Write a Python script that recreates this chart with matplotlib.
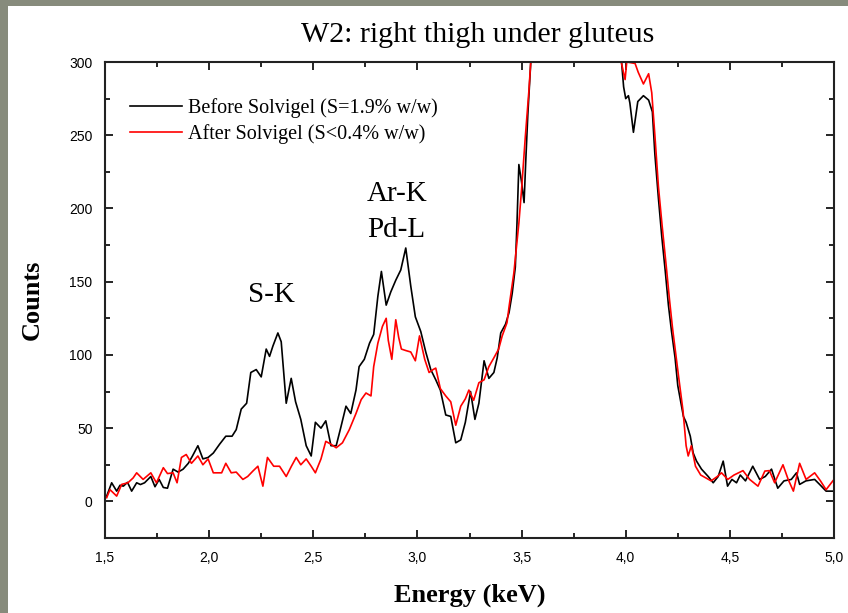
import numpy as np
import matplotlib; matplotlib.use("Agg")
import matplotlib.pyplot as plt
from matplotlib.patches import Rectangle
from matplotlib.ticker import MultipleLocator, FuncFormatter

# ------------------------------------------------ spectra
# Before Solvigel (black)
e_before = [1.508, 1.532, 1.556, 1.572, 1.588, 1.608, 1.628, 1.652, 1.67, 1.69,
            1.72, 1.74, 1.76, 1.78, 1.80, 1.827, 1.851, 1.875, 1.90, 1.92,
            1.946, 1.97, 1.995, 2.02, 2.05, 2.08, 2.11, 2.13, 2.154, 2.18,
            2.20, 2.226, 2.25, 2.274, 2.29, 2.306, 2.33, 2.346, 2.37, 2.394,
            2.415, 2.44, 2.466, 2.49, 2.51, 2.537, 2.56, 2.585, 2.61, 2.633,
            2.657, 2.68, 2.705, 2.72, 2.745, 2.77, 2.79, 2.81, 2.827, 2.85,
            2.872, 2.896, 2.92, 2.944, 2.968, 2.99, 3.016, 3.04, 3.064, 3.088,
            3.11, 3.136, 3.16, 3.184, 3.208, 3.23, 3.255, 3.276, 3.295, 3.32,
            3.343, 3.367, 3.383, 3.40, 3.423, 3.44, 3.455, 3.47, 3.478, 3.487,
            3.50, 3.512, 3.52, 3.53, 3.537, 3.545, 3.56, 3.60, 3.70, 3.80,
            3.90, 3.96, 3.98, 3.99, 4.00, 4.013, 4.02, 4.037, 4.058, 4.085,
            4.11, 4.128, 4.14, 4.157, 4.173, 4.19, 4.205, 4.22, 4.237, 4.25,
            4.277, 4.29, 4.31, 4.324, 4.34, 4.364, 4.396, 4.42, 4.444, 4.468,
            4.489, 4.51, 4.532, 4.55, 4.575, 4.61, 4.643, 4.67, 4.70, 4.73,
            4.76, 4.795, 4.82, 4.835, 4.865, 4.907, 4.935, 4.962, 5.0]
c_before = [3.6, 12.7, 7, 11, 10.4, 13, 7, 12.7, 11.5, 12.7,
            17, 10, 15, 9.5, 9, 22, 20, 22, 26, 31,
            38, 29, 30, 33, 39, 44.5, 44.5, 49, 63, 67,
            88, 90, 85, 104, 99, 106, 115, 109, 67, 84,
            68, 56, 38, 31, 54, 50, 55, 38, 38, 51,
            65, 60, 76, 92, 97, 108, 114, 140, 157, 134,
            143, 151, 158, 173, 147, 126, 116, 102, 90, 83,
            76, 59, 58, 40, 42, 54, 75, 56, 67, 96,
            84, 88, 98, 115, 121, 129, 142, 160, 190, 230,
            218, 204, 232, 264, 282, 302, 340, 430, 530, 560,
            500, 350, 300, 283, 275, 277, 272, 252, 273, 277,
            274, 266, 237, 207, 181, 157, 134, 116, 98, 79,
            58, 54, 44.5, 33, 27.5, 22, 17, 12.7, 17, 27.5,
            10.4, 15, 12.7, 18, 14, 24, 15, 17, 22, 9,
            14, 15, 19.5, 11.6, 14, 15, 11, 7, 7]

# After Solvigel (red)
e_after = [1.508, 1.524, 1.556, 1.58, 1.61, 1.635, 1.652, 1.683, 1.72, 1.747,
           1.78, 1.80, 1.827, 1.846, 1.867, 1.89, 1.915, 1.946, 1.97, 1.995,
           2.02, 2.06, 2.08, 2.106, 2.13, 2.162, 2.185, 2.21, 2.234, 2.258,
           2.28, 2.31, 2.338, 2.37, 2.395, 2.418, 2.44, 2.466, 2.49, 2.51,
           2.537, 2.56, 2.585, 2.61, 2.64, 2.673, 2.705, 2.73, 2.753, 2.777,
           2.79, 2.81, 2.832, 2.85, 2.86, 2.877, 2.896, 2.91, 2.923, 2.944,
           2.968, 2.99, 3.01, 3.035, 3.056, 3.075, 3.088, 3.11, 3.136, 3.16,
           3.184, 3.208, 3.23, 3.247, 3.27, 3.295, 3.32, 3.343, 3.367, 3.39,
           3.407, 3.43, 3.44, 3.463, 3.487, 3.50, 3.518, 3.535, 3.545, 3.56,
           3.60, 3.70, 3.80, 3.90, 3.96, 3.98, 3.997, 4.005, 4.045, 4.06,
           4.085, 4.11, 4.125, 4.14, 4.157, 4.175, 4.195, 4.21, 4.225, 4.24,
           4.255, 4.275, 4.29, 4.30, 4.315, 4.335, 4.36, 4.41, 4.44, 4.46,
           4.49, 4.52, 4.563, 4.595, 4.635, 4.668, 4.69, 4.715, 4.755, 4.78,
           4.805, 4.835, 4.866, 4.907, 4.935, 4.962, 5.0]
c_after = [2.5, 8, 3.6, 11.6, 12.7, 16, 19.5, 15, 19.5, 12.7,
           23, 19, 19.5, 12.7, 30, 32, 26, 31, 25, 29,
           19.5, 19.5, 26, 19.5, 20, 15, 17, 20.7, 24, 10.4,
           30, 24, 24, 17, 24, 30, 25, 29, 24, 19.5,
           29, 41, 39, 36.6, 40, 49, 60, 69.5, 74, 72,
           92, 108, 119.5, 125, 110, 97, 124, 112, 104, 103,
           102, 96, 113, 97, 88, 90, 91, 77, 72, 68,
           52, 65, 70, 76, 69, 81, 83, 92, 98, 104,
           113, 122, 133, 156, 190, 213, 249, 280, 302, 340,
           440, 540, 570, 510, 360, 299, 288, 300, 299, 293,
           285, 292, 279, 250, 215, 188, 160, 138, 118, 101,
           84, 62, 38, 31, 38, 24, 18, 14, 17, 19.5,
           15, 18, 21, 15, 10.4, 20.7, 21, 12.7, 25, 15,
           7, 26, 15, 19.5, 14, 8, 15]

x_ticks = [1.5, 2.0, 2.5, 3.0, 3.5, 4.0, 4.5, 5.0]
y_ticks = [0, 50, 100, 150, 200, 250, 300]

SERIF = ["Liberation Serif", "DejaVu Serif"]
SANS = ["Liberation Sans", "DejaVu Sans"]

fig = plt.figure(figsize=(8.48, 6.13), dpi=100)
fig.patch.set_facecolor("white")
# grey slide border on the left and top
fig.patches.append(Rectangle((0, 0), 8 / 848, 1, transform=fig.transFigure,
                             facecolor="#878b7c", edgecolor="none", zorder=0))
fig.patches.append(Rectangle((0, 1 - 6 / 613), 1, 6 / 613, transform=fig.transFigure,
                             facecolor="#878b7c", edgecolor="none", zorder=0))

ax = fig.add_axes([105 / 848, 75 / 613, 729 / 848, 476 / 613])
ax.plot(e_before, c_before, color="black", lw=1.2,
        label="Before Solvigel (S=1.9% w/w)")
ax.plot(e_after, c_after, color="red", lw=1.2,
        label="After Solvigel (S<0.4% w/w)")
ax.set_xlim(1.5, 5.0)
ax.set_ylim(-25, 300)

ax.set_xticks(x_ticks)
ax.set_yticks(y_ticks)
ax.xaxis.set_minor_locator(MultipleLocator(0.25))
ax.yaxis.set_minor_locator(MultipleLocator(25))
ax.xaxis.set_major_formatter(FuncFormatter(lambda v, p: f"{v:.1f}".replace(".", ",")))
ax.tick_params(which="both", direction="in", top=True, right=True, width=1.2)
ax.tick_params(which="major", length=6, pad=9)
ax.tick_params(which="minor", length=3.5)
for lab in ax.get_xticklabels() + ax.get_yticklabels():
    lab.set_family(SANS)
    lab.set_fontsize(10)
for s in ax.spines.values():
    s.set_linewidth(1.5)
    s.set_color("#222222")

ax.set_xlabel("Energy (keV)", family=SERIF, fontsize=19, fontweight="bold", labelpad=14)
ax.set_ylabel("Counts", family=SERIF, fontsize=19, fontweight="bold", labelpad=18)
fig.text(478 / 848, 1 - 35 / 613, "W2: right thigh under gluteus", family=SERIF,
         fontsize=21.5, ha="center", va="center")

ax.text(2.3, 141, "S-K", family=SERIF, fontsize=21, ha="center", va="center")
ax.text(2.9, 210, "Ar-K", family=SERIF, fontsize=21, ha="center", va="center")
ax.text(2.9, 185, "Pd-L", family=SERIF, fontsize=21, ha="center", va="center")

leg = ax.legend(loc="upper left", bbox_to_anchor=(0.034, 0.925), frameon=False,
                prop={"family": SERIF, "size": 14.5}, handlelength=2.6,
                handletextpad=0.3, labelspacing=0.3, borderaxespad=0,
                borderpad=0)

fig.savefig("out.png", dpi=100)
